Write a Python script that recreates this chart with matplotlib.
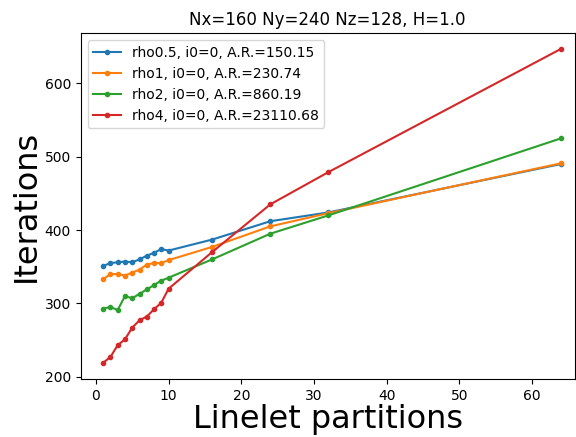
import numpy as np
from matplotlib import pyplot as plt

partitions = [1, 2, 3, 4, 5, 6, 7, 8, 9, 10, 16, 24, 32, 64]

rho05 = [351, 355, 356, 357, 356, 360, 365, 369, 374, 372, 387, 412, 424, 490]
rho1 = [333, 340, 340, 338, 342, 346, 353, 355, 355, 359, 377, 405, 423, 491]
rho2 = [293, 295, 291, 310, 307, 313, 319, 325, 331, 335, 360, 395, 420, 525]
rho4 = [219, 227, 243, 251, 267, 277, 282, 292, 301, 320, 370, 435, 479, 647]

labels = ["rho0.5, i0=0, A.R.=150.15",
          "rho1, i0=0, A.R.=230.74",
          "rho2, i0=0, A.R.=860.19",
          "rho4, i0=0, A.R.=23110.68"]

fig = plt.figure(figsize=(5.76, 4.37), dpi=100)
ax = fig.add_axes([0.140, 0.132, 0.858, 0.792])

for ys, lab in zip([rho05, rho1, rho2, rho4], labels):
    ax.plot(partitions, ys, marker='.', label=lab)

ax.set_xlim(-2.1, 65.9)
ax.set_ylim(196.5, 668.3)
ax.set_title("Nx=160 Ny=240 Nz=128, H=1.0")
ax.set_xlabel("Linelet partitions", fontsize=23, labelpad=1)
ax.set_ylabel("Iterations", fontsize=23, labelpad=2)
ax.legend(loc="upper left")

fig.savefig("out.png", dpi=100)
